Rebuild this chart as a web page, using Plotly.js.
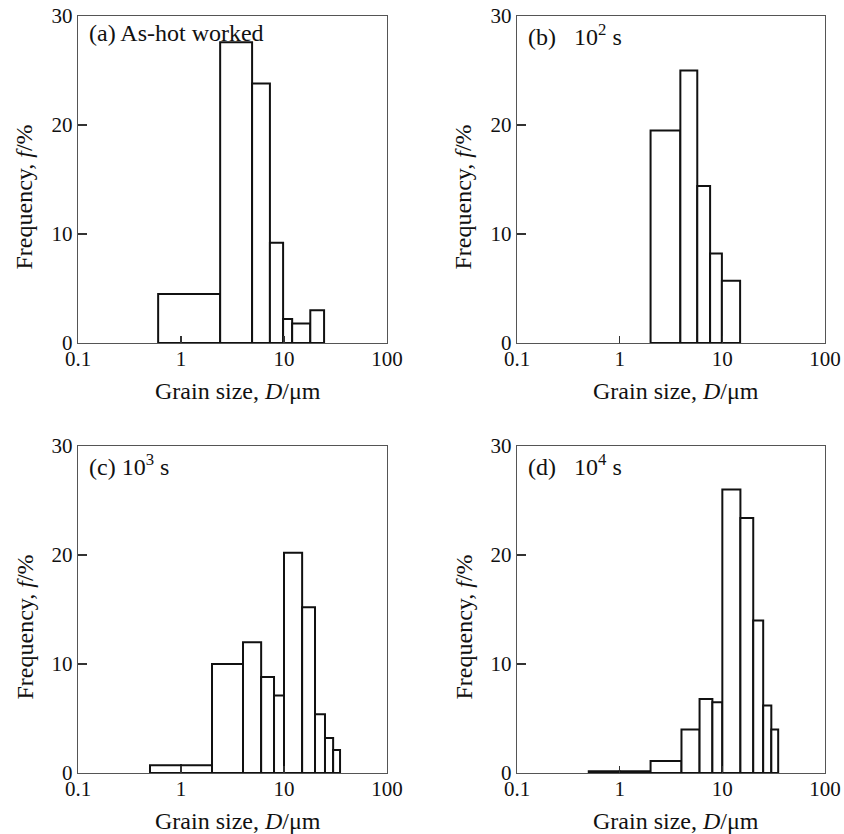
<!DOCTYPE html>
<html>
<head>
<meta charset="utf-8">
<script src="https://cdn.plot.ly/plotly-3.0.1.min.js"></script>
<style>html,body{margin:0;padding:0;background:#fff;}#chart{width:844px;height:834px;}</style>
</head>
<body>
<div id="chart"></div>
<script>
// Bin edges (grain size, µm) and frequencies (%) for each panel
const edgesA = [0.6, 2.4, 4.9, 7.3, 9.8, 12, 18, 24.5];
const freqA  = [4.5, 27.6, 23.8, 9.2, 2.2, 1.8, 3.0];

const edgesB = [2.0, 3.9, 5.7, 7.6, 9.9, 14.9];
const freqB  = [19.5, 25.0, 14.4, 8.2, 5.7];

const edgesC = [0.5, 1, 2, 4, 6, 8, 10, 15, 20, 25, 30, 35];
const freqC  = [0.7, 0.7, 10.0, 12.0, 8.8, 7.1, 20.2, 15.2, 5.4, 3.2, 2.1];

const edgesD = [0.5, 1, 2, 4, 6, 8, 10, 15, 20, 25, 30, 35];
const freqD  = [0.15, 0.15, 1.1, 4.0, 6.8, 6.5, 26.0, 23.4, 14.0, 6.2, 4.0];

const panelLabels = [
  "(a) As-hot worked",
  "(b)\u00a0\u00a0\u00a010<sup>2</sup> s",
  "(c) 10<sup>3</sup> s",
  "(d)\u00a0\u00a0\u00a010<sup>4</sup> s"
];
const xTitle = "Grain size, <i>D</i>/\u03bcm";
const yTitle = "Frequency, <i>f</i>/%";
const xTickVals = [0.1, 1, 10, 100];
const xTickText = ["0.1", "1", "10", "100"];
const yTickVals = [0, 10, 20, 30];

const panels = [[edgesA, freqA], [edgesB, freqB], [edgesC, freqC], [edgesD, freqD]];

const W = 844, H = 834;
// pixel boxes of the four plot areas: [left, right, top, bottom]
const boxes = [[78, 387, 16, 343], [517, 825, 16, 343], [78, 387, 446, 773], [517, 825, 446, 773]];

const FONT = "Liberation Serif, Times New Roman, serif";
const traces = [];
const layout = {
  width: W, height: H,
  margin: {l: 0, r: 0, t: 0, b: 0},
  paper_bgcolor: "#fff", plot_bgcolor: "#fff",
  showlegend: false,
  font: {family: FONT, size: 21, color: "#111"},
  annotations: []
};

panels.forEach(([edges, freq], p) => {
  const n = p + 1;
  const [L, R, T, B] = boxes[p];
  const xa = "x" + (n === 1 ? "" : n), ya = "y" + (n === 1 ? "" : n);
  for (let i = 0; i < freq.length; i++) {
    traces.push({
      type: "scatter", mode: "lines",
      x: [edges[i], edges[i], edges[i+1], edges[i+1], edges[i]],
      y: [0, freq[i], freq[i], 0, 0],
      fill: "toself", fillcolor: "#fff",
      line: {color: "#111", width: 2},
      xaxis: xa, yaxis: ya, hoverinfo: "skip"
    });
  }
  const xk = "xaxis" + (n === 1 ? "" : n), yk = "yaxis" + (n === 1 ? "" : n);
  layout[xk] = {
    type: "log", range: [-1, 2], domain: [L / W, R / W], anchor: ya,
    tickvals: xTickVals, ticktext: xTickText,
    ticks: "inside", ticklen: 7, tickwidth: 1.2, tickcolor: "#333",
    showline: true, mirror: true, linecolor: "#555", linewidth: 1.3,
    showgrid: false, zeroline: false, fixedrange: true,
    ticklabelstandoff: -4,
    tickfont: {family: FONT, size: 21, color: "#111"},
    automargin: false
  };
  layout[yk] = {
    range: [0, 30], domain: [1 - B / H, 1 - T / H], anchor: xa,
    tickvals: yTickVals,
    ticks: "inside", ticklen: 9, tickwidth: 1.2, tickcolor: "#333",
    showline: true, mirror: true, linecolor: "#555", linewidth: 1.3,
    showgrid: false, zeroline: false, fixedrange: true,
    tickfont: {family: FONT, size: 21, color: "#111"},
    automargin: false
  };
  // panel label
  layout.annotations.push({
    text: panelLabels[p], showarrow: false,
    xref: xa + " domain", yref: ya + " domain",
    x: 0.028, y: 1, xanchor: "left", yanchor: "top", yshift: -2,
    font: {family: FONT, size: 24, color: "#111"}
  });
  // x-axis title
  layout.annotations.push({
    text: xTitle, showarrow: false,
    xref: "paper", yref: "paper",
    x: ((L + R) / 2 + 5) / W, y: 1 - (B + 48) / H,
    xanchor: "center", yanchor: "middle",
    font: {family: FONT, size: 24, color: "#111"}
  });
  // y-axis title
  layout.annotations.push({
    text: yTitle, showarrow: false, textangle: -90,
    xref: "paper", yref: "paper",
    x: (L - 54) / W, y: 1 - ((T + B) / 2 + 18) / H,
    xanchor: "center", yanchor: "middle",
    font: {family: FONT, size: 24, color: "#111"}
  });
});

Plotly.newPlot("chart", traces, layout, {displayModeBar: false, staticPlot: true});
</script>
</body>
</html>
